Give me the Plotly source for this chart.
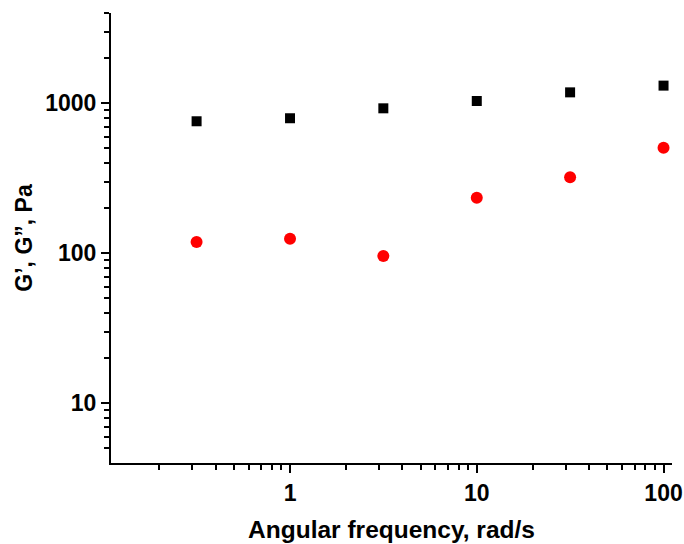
import plotly.graph_objects as go
import math

freq = [0.316, 1, 3.16, 10, 31.6, 100]
g_storage = [759, 795, 926, 1036, 1183, 1312]
g_loss = [119, 125, 96, 235, 321, 505]

fig = go.Figure()
fig.add_trace(go.Scatter(x=freq, y=g_storage, mode="markers", name="G'",
                         marker=dict(symbol="square", size=10, color="black")))
fig.add_trace(go.Scatter(x=freq, y=g_loss, mode="markers", name="G''",
                         marker=dict(symbol="circle", size=12, color="red")))

font_b = dict(family="Liberation Sans, Arial, sans-serif", size=20, color="black")

fig.update_layout(
    width=684, height=544,
    margin=dict(l=111, r=12, t=13, b=81),
    plot_bgcolor="white", paper_bgcolor="white",
    showlegend=False,
    font=font_b,
)
fig.update_xaxes(
    type="log", range=[math.log10(0.11), math.log10(111)],
    automargin=False,
    showline=True, linecolor="black", linewidth=2, mirror=False,
    showgrid=False, zeroline=False,
    ticks="outside", ticklen=8, tickwidth=2, tickcolor="black",
    tickvals=[1, 10, 100], ticktext=["1", "10", "100"],
    tickfont=dict(family="Liberation Sans", size=23, color="black", weight="bold"),
    minor=dict(ticks="outside", ticklen=5, tickwidth=1.5, tickcolor="black",
               tickvals=[0.2, 0.3, 0.4, 0.5, 0.6, 0.7, 0.8, 0.9,
                         2, 3, 4, 5, 6, 7, 8, 9, 20, 30, 40, 50, 60, 70, 80, 90], showgrid=False),
    title=dict(text="Angular frequency, rad/s", standoff=16,
               font=dict(family="Liberation Sans", size=24.5, color="black", weight="bold")),
)
fig.update_yaxes(
    type="log", range=[math.log10(4), math.log10(4000)],
    automargin=False,
    showline=True, linecolor="black", linewidth=2, mirror=False,
    showgrid=False, zeroline=False,
    ticks="outside", ticklen=8, tickwidth=2, tickcolor="black",
    tickvals=[10, 100, 1000], ticktext=["10", "100", "1000"],
    tickfont=dict(family="Liberation Sans", size=23, color="black", weight="bold"),
    minor=dict(ticks="outside", ticklen=5, tickwidth=1.5, tickcolor="black",
               tickvals=[5, 6, 7, 8, 9, 20, 30, 40, 50, 60, 70, 80, 90,
                         200, 300, 400, 500, 600, 700, 800, 900, 2000, 3000, 4000], showgrid=False),
    title=dict(text="G’, G”, Pa", standoff=6,
               font=dict(family="Liberation Sans", size=23, color="black", weight="bold")),
)

fig.write_html("out.html")
